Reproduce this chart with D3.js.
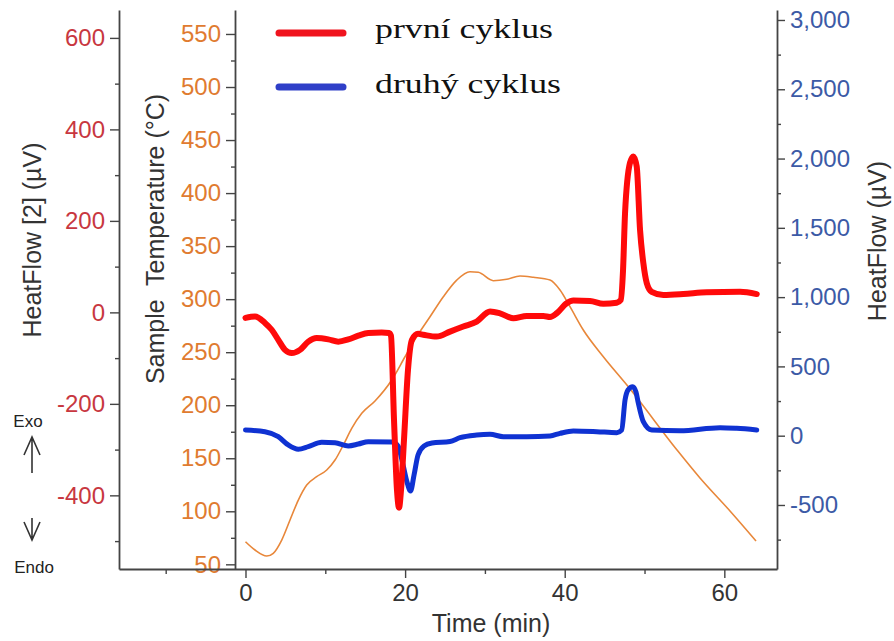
<!DOCTYPE html>
<html>
<head>
<meta charset="utf-8">
<script src="https://cdn.jsdelivr.net/npm/d3@7"></script>
<style>
  html, body { margin: 0; padding: 0; background: #fff; }
  svg { display: block; }
  text { font-family: "Liberation Sans", Arial, sans-serif; }
  text.serif { font-family: "Liberation Serif", "Times New Roman", serif; }
</style>
</head>
<body>
<svg id="chart" width="894" height="641"></svg>
<script>
// ---------- DATA ----------
const seriesNames = ["první cyklus", "druhý cyklus"];

// first cycle – HeatFlow [2] (µV), left axis
const timeRed = [0, 1.19, 2.44, 3.28, 4.11, 4.95, 5.79, 6.83, 7.87, 8.92, 10.38, 11.63, 12.88, 14.14, 15.39, 17.07, 17.98,
  18.23, 18.61, 18.98, 19.24, 19.49, 19.86, 20.36, 20.86, 21.62, 22.28, 23.96, 25.63, 27.29, 28.97, 30.64, 31.89,
  33.56, 35.24, 37.32, 38.16, 39.0, 40.25, 41.08, 43.17, 44.84, 46.52, 47.02, 47.31, 47.56, 48.18, 48.6, 49.02,
  49.44, 49.85, 50.28, 50.9, 52.36, 54.86, 57.79, 61.97, 64.06];
const heatRed = [-12, -9, -23, -38, -60, -82, -89, -82, -64, -56, -59, -64, -59, -51, -45, -44, -45,
  -51, -235, -388, -427, -388, -279, -126, -60, -47, -49, -53, -42, -31, -20, 2, -2,
  -13, -8, -8, -10, -2, 20, 26, 25, 19, 21, 27, 93, 217, 327, 341, 319,
  180, 108, 64, 45, 38, 40, 44, 45, 40];

// second cycle – HeatFlow (µV), right axis
const timeBlue = [0, 2.44, 4.11, 5.36, 6.62, 7.87, 9.55, 11.22, 12.88, 14.14, 15.39, 18.36, 19.11, 19.74, 20.24,
  20.68, 21.12, 21.62, 22.37, 23.37, 25.63, 26.88, 28.97, 30.64, 32.31, 35.24, 38.16, 39.41, 41.08, 44.01,
  46.52, 47.14, 47.56, 47.93, 48.52, 48.93, 49.22, 49.85, 50.9, 54.45, 59.46, 61.55, 64.06];
const heatBlue = [41, 29, -7, -67, -98, -79, -48, -51, -74, -60, -43, -45, -74, -211, -334,
  -399, -284, -139, -74, -53, -42, -14, 5, 10, -7, -7, -2, 17, 34, 29,
  22, 41, 258, 330, 354, 315, 236, 101, 41, 36, 58, 53, 41];

// Sample temperature (°C), middle axis
const timeTemp = [0, 1.19, 2.66, 3.48, 4.54, 5.58, 6.62, 7.67, 8.92, 10.18, 11.22, 12.26, 13.31, 14.57, 16.23,
  18.33, 19.99, 21.45, 23.12, 24.79, 26.47, 28.13, 29.17, 31.05, 32.73, 34.4, 36.07, 38.16, 39.41, 40.66,
  42.33, 44.84, 47.97, 54.07, 56.95, 60.71, 63.97];
const temp = [71.3, 63.5, 57.8, 60.4, 72.9, 91.8, 110.6, 124.8, 132.6, 138.9, 148.3, 162.5, 178.2, 192.4, 204,
  223.8, 245.7, 264.6, 283.4, 302.3, 318, 325.9, 325.3, 317.4, 318.7, 321.8, 320.6, 318, 308.6, 292.9,
  270.9, 245.7, 217.4, 157.8, 131.4, 100.3, 72];

// ticks
const xTicks = [0, 20, 40, 60];
const xMinor = [-10, 10, 30, 50];
const leftTicks = [-400, -200, 0, 200, 400, 600];
const leftMinor = [-500, -300, -100, 100, 300, 500];
const tempTicks = [50, 100, 150, 200, 250, 300, 350, 400, 450, 500, 550];
const tempMinor = [75, 125, 175, 225, 275, 325, 375, 425, 475, 525];
const rightTicks = [-500, 0, 500, 1000, 1500, 2000, 2500, 3000];
const rightMinor = [-750, -250, 250, 750, 1250, 1750, 2250, 2750];

// ---------- CHART ----------
const svg = d3.select("#chart");
const axisColor = "#444";
const redTick = "#c8373f", orangeTick = "#e07b30", blueTick = "#3c5aa6";
const hyphen = f => (d => f(d).replace("\u2212", "-"));

const x = d3.scaleLinear().domain([-15.85, 66.6]).range([119, 777]);
const yL = d3.scaleLinear().domain([-561, 661]).range([569, 10]);
const yT = d3.scaleLinear().domain([45.6, 572.6]).range([569, 10]);
const yR = d3.scaleLinear().domain([-962, 3072]).range([569, 10]);

function styleAxis(g, color) {
  g.selectAll("path.domain").attr("stroke", axisColor).attr("stroke-width", 1.8);
  g.selectAll(".tick line").attr("stroke", axisColor).attr("stroke-width", 1.4);
  g.selectAll(".tick text").attr("fill", color).attr("font-size", 24);
}

// minor ticks
svg.append("g").attr("transform", "translate(119,0)")
  .call(d3.axisLeft(yL).tickValues(leftMinor).tickSize(4).tickFormat(""))
  .call(g => { g.select(".domain").remove(); styleAxis(g, redTick); });
svg.append("g").attr("transform", "translate(235,0)")
  .call(d3.axisLeft(yT).tickValues(tempMinor).tickSize(4).tickFormat(""))
  .call(g => { g.select(".domain").remove(); styleAxis(g, orangeTick); });
svg.append("g").attr("transform", "translate(777,0)")
  .call(d3.axisRight(yR).tickValues(rightMinor).tickSize(4).tickFormat(""))
  .call(g => { g.select(".domain").remove(); styleAxis(g, blueTick); });
svg.append("g").attr("transform", "translate(0,569)")
  .call(d3.axisBottom(x).tickValues(xMinor).tickSize(5).tickFormat(""))
  .call(g => { g.select(".domain").remove(); styleAxis(g, "#333"); });

// major axes
svg.append("g").attr("transform", "translate(119,0)")
  .call(d3.axisLeft(yL).tickValues(leftTicks).tickSize(9).tickSizeOuter(0).tickPadding(5)
    .tickFormat(hyphen(d3.format("d"))))
  .call(g => styleAxis(g, redTick));
svg.append("g").attr("transform", "translate(235,0)")
  .call(d3.axisLeft(yT).tickValues(tempTicks).tickSize(9).tickSizeOuter(0).tickPadding(5))
  .call(g => styleAxis(g, orangeTick));
svg.append("g").attr("transform", "translate(777,0)")
  .call(d3.axisRight(yR).tickValues(rightTicks).tickSize(8).tickSizeOuter(0).tickPadding(5)
    .tickFormat(hyphen(d3.format(","))))
  .call(g => styleAxis(g, blueTick));
svg.append("g").attr("transform", "translate(0,569)")
  .call(d3.axisBottom(x).tickValues(xTicks).tickSize(9).tickSizeOuter(0).tickPadding(6))
  .call(g => styleAxis(g, "#333"));

// axis titles
const titleColor = "#333";
svg.append("text").attr("transform", "translate(32,240) rotate(-90)")
  .attr("text-anchor", "middle").attr("dominant-baseline", "central")
  .attr("font-size", 25).attr("fill", titleColor).text("HeatFlow [2] (µV)");
svg.append("text").attr("transform", "translate(155,239) rotate(-90)")
  .attr("text-anchor", "middle").attr("dominant-baseline", "central")
  .attr("font-size", 25).attr("fill", titleColor).style("white-space", "pre")
  .text("Sample  Temperature (°C)");
svg.append("text").attr("transform", "translate(877,241) rotate(-90)")
  .attr("text-anchor", "middle").attr("dominant-baseline", "central")
  .attr("font-size", 25).attr("fill", titleColor).text("HeatFlow (µV)");
svg.append("text").attr("x", 491).attr("y", 632).attr("text-anchor", "middle")
  .attr("font-size", 25).attr("fill", titleColor).text("Time (min)");

// Exo / Endo
svg.append("text").attr("x", 28).attr("y", 427).attr("text-anchor", "middle")
  .attr("font-size", 17).attr("fill", "#222").text("Exo");
svg.append("text").attr("x", 34).attr("y", 573).attr("text-anchor", "middle")
  .attr("font-size", 17).attr("fill", "#222").text("Endo");
const arrow = svg.append("g").attr("stroke", "#333").attr("stroke-width", 1.6).attr("fill", "none");
arrow.append("path").attr("d", "M32,473 L32,437 M24,455 L32,437 L40,455");
arrow.append("path").attr("d", "M32,518 L32,540 M24,522 L32,540 L40,522");

// lines
const lineTemp = d3.line().x(i => x(timeTemp[i])).y(i => yT(temp[i])).curve(d3.curveMonotoneX);
const lineBlue = d3.line().x(i => x(timeBlue[i])).y(i => yR(heatBlue[i])).curve(d3.curveMonotoneX);
const lineRed = d3.line().x(i => x(timeRed[i])).y(i => yL(heatRed[i])).curve(d3.curveMonotoneX);

svg.append("path").attr("d", lineTemp(d3.range(timeTemp.length)))
  .attr("fill", "none").attr("stroke", "#e8873a").attr("stroke-width", 1.6);
svg.append("path").attr("d", lineBlue(d3.range(timeBlue.length)))
  .attr("fill", "none").attr("stroke", "#0f32d2").attr("stroke-width", 5)
  .attr("stroke-linejoin", "round").attr("stroke-linecap", "round");
svg.append("path").attr("d", lineRed(d3.range(timeRed.length)))
  .attr("fill", "none").attr("stroke", "#ff0a0a").attr("stroke-width", 6)
  .attr("stroke-linejoin", "round").attr("stroke-linecap", "round");

// legend
const legendColors = ["#f0141e", "#2f3fc8"];
const legendY = [33, 87];
const legendBase = [38, 93];
const legendLen = [178, 186];
seriesNames.forEach((name, i) => {
  svg.append("line").attr("x1", 279).attr("x2", 343).attr("y1", legendY[i]).attr("y2", legendY[i])
    .attr("stroke", legendColors[i]).attr("stroke-width", 7).attr("stroke-linecap", "round");
  svg.append("text").attr("class", "serif").attr("x", 375).attr("y", legendBase[i])
    .attr("font-size", 27).attr("fill", "#111")
    .attr("textLength", legendLen[i]).attr("lengthAdjust", "spacingAndGlyphs")
    .text(name);
});
</script>
</body>
</html>
